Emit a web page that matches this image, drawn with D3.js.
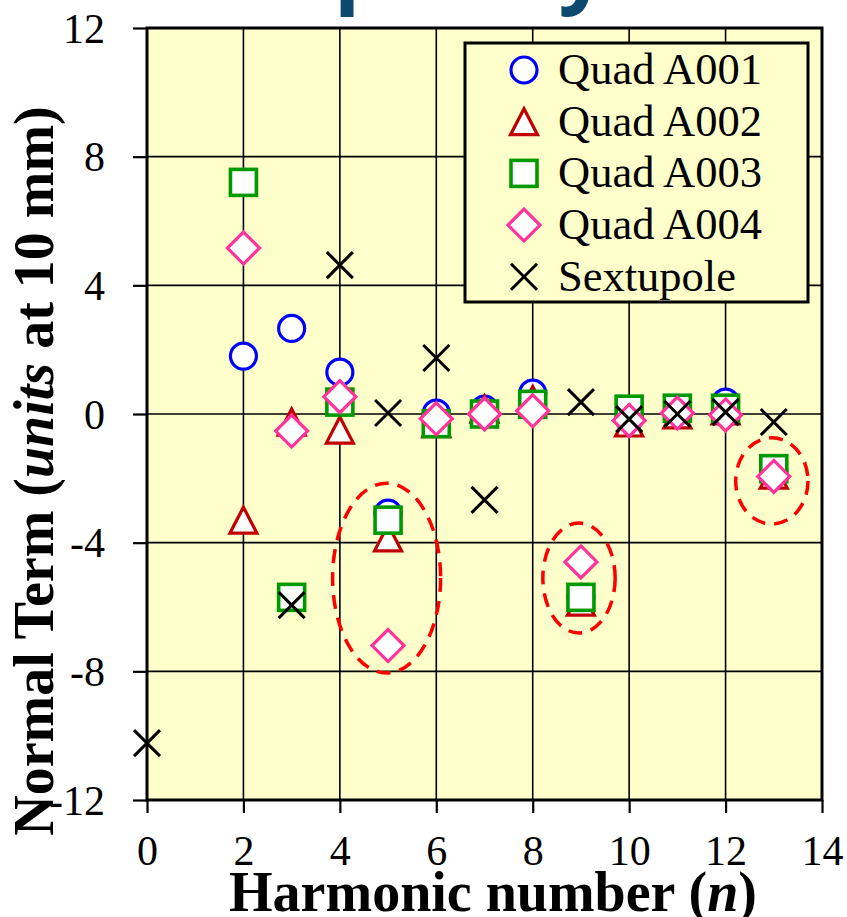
<!DOCTYPE html>
<html>
<head>
<meta charset="utf-8">
<script src="https://cdn.jsdelivr.net/npm/d3@7"></script>
<style>
  html, body { margin: 0; padding: 0; background: #ffffff; }
  svg { display: block; }
</style>
</head>
<body>
<svg id="chart" width="847" height="917"></svg>
<script>
// Harmonic numbers and normal multipole terms (units at 10 mm)
const harmonics = [0, 2, 3, 4, 5, 6, 7, 8, 9, 10, 11, 12, 13];

const quadA001 = [
  [2, 1.80], [3, 2.66], [4, 1.30], [5, -3.08], [6, 0.03], [7, 0.15],
  [8, 0.65], [9, -5.70], [10, -0.15], [11, 0.10], [12, 0.37], [13, -1.75]
];
const quadA002 = [
  [2, -3.30], [3, -0.25], [4, -0.50], [5, -3.85], [6, -0.30], [7, 0.15],
  [8, 0.45], [9, -5.85], [10, -0.28], [11, -0.03], [12, 0.10], [13, -1.90]
];
const quadA003 = [
  [2, 7.20], [3, -5.70], [4, 0.37], [5, -3.30], [6, -0.30], [7, 0.00],
  [8, 0.30], [9, -5.70], [10, 0.15], [11, 0.18], [12, 0.18], [13, -1.70]
];
const quadA004 = [
  [2, 5.16], [3, -0.53], [4, 0.54], [5, -7.20], [6, -0.15], [7, 0.00],
  [8, 0.10], [9, -4.60], [10, -0.20], [11, 0.03], [12, -0.03], [13, -1.94]
];
const sextupole = [
  [0, -10.23], [3, -5.94], [4, 4.63], [5, 0.03], [6, 1.74], [7, -2.67],
  [9, 0.37], [10, -0.16], [11, 0.00], [12, 0.06], [13, -0.25]
];

const seriesNames = ["Quad A001", "Quad A002", "Quad A003", "Quad A004", "Sextupole"];
const seriesData = [quadA001, quadA002, quadA003, quadA004, sextupole];
const seriesShapes = ["circle", "triangle", "square", "diamond", "cross"];
const seriesColors = ["#0000ff", "#c00000", "#009900", "#ff3399", "#000000"];

const xTicks = [0, 2, 4, 6, 8, 10, 12, 14];
const yTicks = [-12, -8, -4, 0, 4, 8, 12];

// Highlighted groups: centre (n, value) and half-widths in data units
const highlightN = [4.97, 8.96, 12.96];
const highlightV = [-5.1, -5.1, -2.08];
const highlightRn = [1.12, 0.75, 0.75];
const highlightRv = [2.95, 1.71, 1.34];

const svg = d3.select("#chart");
const plot = { left: 147, right: 822, top: 28, bottom: 800 };

const x = d3.scaleLinear().domain([0, 14]).range([plot.left, plot.right]);
const y = d3.scaleLinear().domain([-12, 12]).range([plot.bottom, plot.top]);

const serif = "'Liberation Serif', 'Times New Roman', serif";

// Slide heading above the chart (mostly outside the frame)
const heading = svg.append("text")
  .attr("x", 0).attr("y", -4)
  .attr("font-family", "'Open Sans', 'Noto Sans', sans-serif")
  .attr("font-weight", 700)
  .attr("font-size", 86)
  .attr("fill", "#0b4a6e")
  .text("Field quality");
{
  const node = heading.node();
  const idx = node.textContent.indexOf("q");
  const ext = node.getExtentOfChar(idx);
  heading.attr("x", 352 - (ext.x + ext.width * 0.85));
}

// Plot background
svg.append("rect")
  .attr("x", plot.left).attr("y", plot.top)
  .attr("width", plot.right - plot.left).attr("height", plot.bottom - plot.top)
  .attr("fill", "#ffffcc");

// Gridlines
const grid = svg.append("g").attr("stroke", "#000").attr("stroke-width", 1.6);
grid.selectAll("line.v").data(xTicks.filter(t => t > 0 && t < 14)).join("line")
  .attr("x1", d => x(d)).attr("x2", d => x(d))
  .attr("y1", plot.top).attr("y2", plot.bottom);
grid.selectAll("line.h").data(yTicks.filter(t => t > -12 && t < 12)).join("line")
  .attr("x1", plot.left).attr("x2", plot.right)
  .attr("y1", d => y(d)).attr("y2", d => y(d));

// Axes
const xAxis = svg.append("g")
  .attr("transform", `translate(0,${plot.bottom})`)
  .call(d3.axisBottom(x).tickValues(xTicks).tickSize(13).tickPadding(22).tickFormat(d3.format("d")));
const yAxis = svg.append("g")
  .attr("transform", `translate(${plot.left},0)`)
  .call(d3.axisLeft(y).tickValues(yTicks).tickSize(14).tickPadding(28).tickFormat(d => d < 0 ? "-" + Math.abs(d) : String(d)));

[xAxis, yAxis].forEach(a => {
  a.select(".domain").remove();
  a.selectAll(".tick line").attr("stroke", "#000").attr("stroke-width", 2.2);
  a.selectAll(".tick text")
    .attr("fill", "#000")
    .attr("font-family", serif)
    .attr("font-size", 42);
});
xAxis.selectAll(".tick text").attr("dy", "0.71em");
yAxis.selectAll(".tick text").attr("dy", "0.34em");

// Plot frame
svg.append("rect")
  .attr("x", plot.left).attr("y", plot.top)
  .attr("width", plot.right - plot.left).attr("height", plot.bottom - plot.top)
  .attr("fill", "none").attr("stroke", "#000").attr("stroke-width", 3);

// Marker shapes centred on the origin
function addMarker(g, shape, color) {
  const sw = 3.2;
  if (shape === "circle") {
    g.append("circle").attr("r", 13).attr("fill", "#fff").attr("stroke", color).attr("stroke-width", sw);
  } else if (shape === "square") {
    g.append("rect").attr("x", -13).attr("y", -13).attr("width", 26).attr("height", 26)
      .attr("fill", "#fff").attr("stroke", color).attr("stroke-width", sw + 0.4);
  } else if (shape === "diamond") {
    g.append("path").attr("d", "M0,-16L16,0L0,16L-16,0Z")
      .attr("fill", "#fff").attr("stroke", color).attr("stroke-width", sw);
  } else if (shape === "triangle") {
    g.append("path").attr("d", "M0,-13L13.5,13L-13.5,13Z")
      .attr("fill", "#fff").attr("stroke", color).attr("stroke-width", sw).attr("stroke-linejoin", "miter");
  } else if (shape === "cross") {
    g.append("path").attr("d", "M-13,-13L13,13M-13,13L13,-13")
      .attr("fill", "none").attr("stroke", color).attr("stroke-width", 3);
  }
}

// Data points, one layer per series
seriesData.forEach((data, i) => {
  const layer = svg.append("g").attr("class", "series");
  layer.selectAll("g.pt").data(data).join("g")
    .attr("class", "pt")
    .attr("transform", d => `translate(${x(d[0])},${y(d[1])})`)
    .each(function () { addMarker(d3.select(this), seriesShapes[i], seriesColors[i]); });
});

// Dashed outlines around the highlighted groups
svg.append("g").selectAll("ellipse").data(highlightN).join("ellipse")
  .attr("cx", (d) => x(d))
  .attr("cy", (d, i) => y(highlightV[i]))
  .attr("rx", (d, i) => x(highlightRn[i]) - x(0))
  .attr("ry", (d, i) => y(0) - y(highlightRv[i]))
  .attr("fill", "none")
  .attr("stroke", "#ff0000")
  .attr("stroke-width", 3.5)
  .attr("stroke-dasharray", "14 9");

// Legend
const legend = { left: 465, top: 43, width: 343, height: 259, row: 51.7 };
svg.append("rect")
  .attr("x", legend.left).attr("y", legend.top)
  .attr("width", legend.width).attr("height", legend.height)
  .attr("fill", "#ffffcc").attr("stroke", "#000").attr("stroke-width", 3);
seriesNames.forEach((name, i) => {
  const cy = legend.top + 27 + i * legend.row;
  const g = svg.append("g").attr("transform", `translate(${legend.left + 59},${cy})`);
  addMarker(g, seriesShapes[i], seriesColors[i]);
  svg.append("text")
    .attr("x", legend.left + 93).attr("y", cy + 14)
    .attr("font-family", serif).attr("font-size", 44.5)
    .attr("fill", "#000")
    .text(name);
});

// Axis titles
const xTitle = svg.append("text")
  .attr("x", 493).attr("y", 911)
  .attr("text-anchor", "middle")
  .attr("font-family", serif).attr("font-weight", 700).attr("font-size", 56)
  .attr("fill", "#000");
xTitle.append("tspan").text("Harmonic number (");
xTitle.append("tspan").attr("font-style", "italic").text("n");
xTitle.append("tspan").text(")");

const yTitle = svg.append("text")
  .attr("transform", "translate(53,471) rotate(-90)")
  .attr("text-anchor", "middle")
  .attr("font-family", serif).attr("font-weight", 700).attr("font-size", 56)
  .attr("fill", "#000");
yTitle.append("tspan").text("Normal Term (");
yTitle.append("tspan").attr("font-style", "italic").text("units");
yTitle.append("tspan").text(" at 10 mm)");
</script>
</body>
</html>
